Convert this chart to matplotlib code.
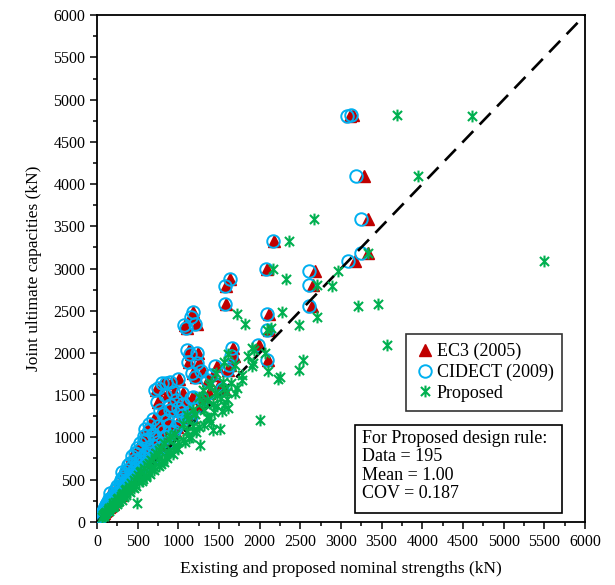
import matplotlib
matplotlib.use('Agg')
import matplotlib.pyplot as plt
from matplotlib.path import Path
from matplotlib.patches import Rectangle

plt.rcParams['font.family'] = 'Liberation Serif'
plt.rcParams['mathtext.fontset'] = 'stix'

# test capacity (kN) and the three nominal strengths (kN) for each joint
test_kn = [4820, 4805, 4100, 3585, 3325, 3180, 3090, 2990, 2965, 2875,
           2800, 2790, 2580, 2555, 2485, 2460, 2430, 2340, 2330, 2295,
           2270, 2095, 2060, 2030, 2000, 1990, 1960, 1915, 1890, 1880,
           1860, 1845, 1800, 1790, 1760, 1740, 1715, 1690, 1680, 1660,
           1650, 1640, 1620, 1590, 1570, 1560, 1540, 1520, 1500, 1480,
           1465, 1440, 1420, 1400, 1380, 1350, 1330, 1320, 1300, 1280,
           1265, 1245, 1220, 1200, 1180, 1160, 1140, 1120, 1100, 1090,
           1080, 1060, 1040, 1020, 1000, 980, 970, 950, 930, 910,
           900, 880, 860, 850, 830, 810, 800, 780, 770, 750,
           730, 720, 700, 690, 670, 650, 640, 620, 600, 590,
           580, 560, 540, 520, 510, 490, 470, 460, 440, 420,
           410, 390, 380, 360, 345, 330, 310, 300, 280, 270,
           250, 240, 225, 220, 200, 190, 180, 160, 150, 140,
           120, 110, 100, 90, 80, 1530, 1450, 1370, 1310, 1230,
           1150, 1070, 990, 940, 870, 820, 760, 710, 660, 610,
           570, 530, 480, 430, 400, 350, 320, 290, 260, 230,
           210, 170, 130, 70, 60]

ec3_kn = [3150, 3110, 3285, 3330, 2180, 3335, 3170, 2090, 2680, 1640,
          2650, 1580, 1580, 2640, 1180, 2120, 1165, 1230, 1080, 1100,
          2110, 1990, 1670, 1130, 1240, 1150, 1680, 2100, 1130, 1250,
          1640, 1470, 1610, 1300, 1180, 1420, 1210, 1010, 1360, 920,
          810, 860, 1500, 760, 1560, 720, 940, 1050, 860, 1200,
          1170, 980, 750, 1080, 900, 1000, 780, 900, 1150, 820,
          1060, 1170, 700, 870, 1000, 650, 760, 980, 600, 650,
          820, 900, 700, 580, 860, 620, 590, 760, 540, 690,
          820, 500, 640, 530, 720, 480, 600, 430, 560, 650,
          470, 540, 420, 600, 390, 500, 410, 540, 360, 310,
          440, 350, 470, 320, 400, 300, 380, 280, 340, 250,
          360, 260, 220, 300, 160, 230, 200, 260, 170, 150,
          210, 140, 130, 180, 110, 160, 100, 120, 90, 110,
          70, 90, 60, 70, 50, 1380, 1300, 1250, 1040, 1110,
          890, 960, 720, 880, 780, 660, 700, 500, 580, 460,
          520, 420, 360, 300, 330, 270, 290, 220, 230, 160,
          190, 140, 100, 50, 40]

cidect_kn = [3120, 3075, 3185, 3250, 2165, 3250, 3090, 2080, 2600, 1635,
             2600, 1570, 1570, 2600, 1175, 2090, 1160, 1200, 1070, 1090,
             2090, 1980, 1660, 1110, 1230, 1140, 1650, 2090, 1120, 1230,
             1620, 1450, 1600, 1280, 1170, 1400, 1200, 1000, 1350, 900,
             800, 850, 1480, 750, 1540, 715, 930, 1040, 840, 1180,
             1160, 970, 740, 1060, 890, 990, 770, 900, 1130, 810,
             1050, 1160, 690, 860, 990, 640, 750, 970, 590, 640,
             810, 890, 690, 570, 850, 610, 580, 750, 530, 680,
             810, 495, 630, 520, 710, 470, 590, 425, 550, 640,
             460, 530, 410, 590, 380, 490, 400, 530, 350, 305,
             430, 345, 460, 310, 390, 290, 370, 275, 330, 245,
             350, 250, 215, 290, 160, 220, 195, 250, 165, 145,
             200, 135, 125, 175, 105, 155, 95, 115, 85, 105,
             68, 88, 58, 68, 48, 1360, 1290, 1240, 1030, 1100,
             880, 950, 710, 870, 770, 650, 690, 490, 570, 450,
             510, 410, 350, 290, 320, 260, 280, 210, 220, 155,
             185, 135, 95, 48, 38]

proposed_kn = [3690, 4610, 3950, 2670, 2360, 3335, 5500, 2165, 2965, 2325,
               2700, 2890, 3455, 3210, 2275, 1720, 2705, 1820, 2485, 2140,
               2090, 3570, 1905, 1930, 2060, 1610, 1850, 2535, 1560, 1920,
               1700, 1905, 2485, 2100, 1460, 1780, 2250, 2225, 1785, 1550,
               1400, 1650, 1380, 1720, 1560, 1300, 1600, 1450, 1480, 1250,
               1520, 1350, 1290, 1420, 1560, 1610, 1180, 1320, 1440, 1200,
               1100, 1350, 1120, 2005, 1400, 1050, 1180, 1250, 1510, 1430,
               1110, 1210, 960, 900, 1150, 880, 1050, 1000, 820, 1270,
               940, 790, 1000, 760, 870, 720, 930, 700, 850, 760,
               660, 800, 640, 780, 610, 700, 580, 680, 540, 530,
               640, 500, 600, 480, 560, 450, 510, 420, 470, 390,
               440, 360, 340, 390, 320, 300, 290, 330, 260, 240,
               270, 220, 490, 200, 190, 210, 170, 150, 140, 130,
               110, 100, 95, 85, 75, 1700, 1600, 1480, 1530, 1380,
               1320, 1180, 1130, 1080, 980, 900, 860, 820, 760, 700,
               650, 600, 550, 480, 450, 400, 360, 330, 300, 260,
               240, 190, 150, 80, 65]

ticks = list(range(0, 6001, 500))

# excel style asterisk marker (x with a vertical stroke)
ast = Path([(-1, -1), (1, 1), (-1, 1), (1, -1), (0, -1.3), (0, 1.3)],
           [Path.MOVETO, Path.LINETO] * 3)

fig = plt.figure(figsize=(6.15, 5.85), dpi=100)
ax = fig.add_axes([0.158, 0.108, 0.793, 0.866])

ax.plot([0, 6000], [0, 6000], color='black', lw=1.9, ls=(0, (6, 3.5)), zorder=4)
ax.plot(ec3_kn, test_kn, ls='none', marker='^', ms=8, mfc='#C00000',
        mec='#C00000', label='EC3 (2005)', zorder=2)
ax.plot(cidect_kn, test_kn, ls='none', marker='o', ms=9, mfc='none',
        mec='#00B0F0', mew=1.4, label='CIDECT (2009)', zorder=3)
ax.plot(proposed_kn, test_kn, ls='none', marker=ast, ms=8.5, mfc='none',
        mec='#00B050', mew=1.5, label='Proposed', zorder=5)

ax.set_xlim(0, 6000)
ax.set_ylim(0, 6000)
ax.set_xticks(ticks)
ax.set_yticks(ticks)
ax.set_xticks(range(250, 6000, 500), minor=True)
ax.set_yticks(range(250, 6000, 500), minor=True)
ax.tick_params(which='both', direction='out', labelsize=11.5, width=1.1)
ax.tick_params(which='major', length=5)
ax.tick_params(which='minor', length=3)
for s in ax.spines.values():
    s.set_linewidth(1.3)

ax.set_xlabel('Existing and proposed nominal strengths (kN)', fontsize=12.5, labelpad=8)
ax.set_ylabel('Joint ultimate capacities (kN)', fontsize=12.5, labelpad=8)

leg = ax.legend(loc='upper left', bbox_to_anchor=(0.633, 0.371), borderaxespad=0,
                fontsize=13, frameon=True, fancybox=False, handlelength=1.15,
                handletextpad=0.05, borderpad=0.5, labelspacing=0.2)
leg.get_frame().set_edgecolor('black')
leg.get_frame().set_linewidth(1.2)
leg.set_zorder(10)

ax.add_patch(Rectangle((0.529, 0.018), 0.424, 0.173, transform=ax.transAxes,
                       fc='white', ec='black', lw=1.2, zorder=10))
ax.text(0.543, 0.182, 'For Proposed design rule:\nData = 195\nMean = 1.00\nCOV = 0.187',
        transform=ax.transAxes, va='top', ha='left', fontsize=13,
        linespacing=1.12, zorder=11)

fig.savefig('out.png', dpi=100, facecolor='white')
